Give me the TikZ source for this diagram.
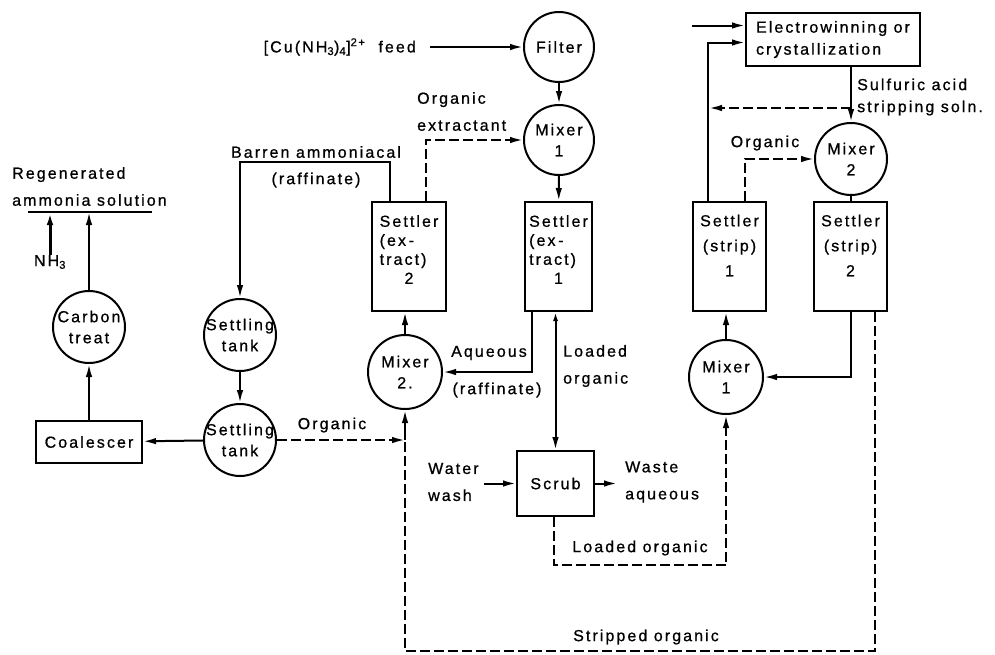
\documentclass[tikz,border=0pt]{standalone}
\usepackage{fontspec}
\setmainfont{Liberation Sans}[LetterSpace=13,FakeBold=0.8]
\usetikzlibrary{arrows.meta,calc}
\newcommand{\fsz}[1]{\fontsize{16}{#1}\selectfont}
\begin{document}
\begin{tikzpicture}[x=1pt,y=-1pt,
  cn/.style={line width=2pt},
  arr/.style={cn,-{Latex[length=13pt,width=6.5pt]}},
  dsh/.style={cn,dash pattern=on 10pt off 4pt},
  proc/.style={circle,draw,line width=2pt,inner sep=-14pt,align=center,font=\fsz{21}},
  box/.style={rectangle,draw,line width=2pt,inner sep=0pt,align=center,font=\fsz{22}},
  lbl/.style={inner sep=0pt,font=\fsz{27}},
  settext/.style n args={3}{label={[font=\fsz{#1},align=center,yshift=#2]center:#3}},
]
\useasboundingbox (0,0) rectangle (995,654);

% ---- main units ----
\node[proc,minimum size=70pt] (filter) at (559,47) {Filter};
\node[proc,minimum size=70pt] (mixE1) at (559,140) {Mixer\\1};
\node[box,minimum width=67pt,minimum height=109pt,
      settext={19}{5pt}{\begin{tabular}{@{}l@{}}Settler\\(ex\,-\\tract)\\\multicolumn{1}{@{}c@{}}{1}\end{tabular}}]
      (setE1) at (558.5,256.5) {};
\node[box,minimum width=74pt,minimum height=109pt,
      settext={19}{5pt}{\begin{tabular}{@{}l@{}}Settler\\(ex\,-\\tract)\\\multicolumn{1}{@{}c@{}}{2}\end{tabular}}]
      (setE2) at (409,256.5) {};
\node[proc,minimum size=74pt] (mixE2) at (405,372) {Mixer\\2.};
\node[box,minimum width=77pt,minimum height=65pt] (scrub) at (555.5,483.5) {Scrub};
\node[proc,minimum size=72pt] (tank1) at (240,335) {Settling\\tank};
\node[proc,minimum size=72pt] (tank2) at (240,440) {Settling\\tank};
\node[box,minimum width=106pt,minimum height=42pt] (coal) at (89,442) {Coalescer};
\node[proc,minimum size=72pt] (carbon) at (89,327) {Carbon\\treat};
\node[proc,minimum size=74pt] (mixS1) at (726,377) {Mixer\\1};
\node[box,minimum width=73pt,minimum height=109pt,
      settext={25}{11pt}{Settler\\(strip)\\1}] (setS1) at (729.5,256.5) {};
\node[box,minimum width=73pt,minimum height=109pt,
      settext={25}{11pt}{Settler\\(strip)\\2}] (setS2) at (850.5,256.5) {};
\node[proc,minimum size=72pt] (mixS2) at (851,159) {Mixer\\2};
\node[box,minimum width=174pt,minimum height=53pt,align=left] (elec) at (833,39.5)
      {Electrowinning or\\crystallization};

% ---- labels ----
\node[lbl,anchor=east] (feed) at (416,47) {[Cu(NH\textsubscript{3})\textsubscript{4}]\textsuperscript{2+}\ \ feed};
\node[lbl,anchor=west,align=left] (regen) at (12,186.5) {Regenerated\\ammonia solution};
\node[lbl] (nh3) at (50,262) {NH\textsubscript{3}};
\node[lbl] (barren) at (316,152) {Barren ammoniacal};
\node[lbl] (raff1) at (316,180) {(raffinate)};
\node[lbl,anchor=west,align=left] (orgext) at (417,111.5) {Organic\\extractant};
\node[lbl] (aq) at (489,353) {Aqueous};
\node[lbl] (raff2) at (497,390) {(raffinate)};
\node[lbl,anchor=west,align=left] (loaded) at (563,366) {Loaded\\organic};
\node[lbl] (org1) at (332,425) {Organic};
\node[lbl,anchor=west,align=left] (water) at (428,482) {Water\\wash};
\node[lbl,anchor=west,align=left] (waste) at (625,482) {Waste\\aqueous};
\node[lbl] (lorg) at (640,548) {Loaded organic};
\node[lbl] (strip) at (646,637) {Stripped organic};
\node[lbl,anchor=west,align=left,font=\fsz{22}] (sulf) at (857,97) {Sulfuric acid\\stripping soln.};
\node[lbl] (org2) at (765,143) {Organic};

% ---- coordinates ----
\coordinate (barL) at (28,212);
\coordinate (barR) at (152,212);
\coordinate (join) at (mixE2.south |- tank2.east);
\coordinate (ein) at (692,25.5);
\coordinate (sa) at (851,108);
\coordinate (sb) at (709,108);

% ---- connectors ----
\draw[arr,shorten <=14pt] (feed.east) -- (feed.east -| filter.west);
\draw[arr] (filter) -- (mixE1);
\draw[arr] (mixE1) -- (setE1);
\draw[arr] ([xshift=19pt]setE2.north west) -- ++(0,-39) -| (tank1.north);
\draw[arr,dsh] ([xshift=55pt]setE2.north west) |- (mixE1.west);
\draw[arr] (mixE2.north) -- (mixE2.north |- setE2.south);
\draw[arr] ([xshift=-26.5pt]setE1.south) |- (mixE2.east);
\draw[cn,{Latex[length=9pt,width=5pt]}-{Latex[length=13pt,width=6.5pt]}] (scrub.north |- setE1.south) -- (scrub.north);
\draw[arr,shorten <=5pt] (scrub.west -| water.east) -- (scrub.west);
\draw[arr,shorten >=8pt] (scrub.east) -- (scrub.east -| waste.west);
\draw[arr,dsh] ([xshift=-2pt]scrub.south) -- ++(0,48) -| (mixS1.south);
\draw[arr] (mixS1.north) -- (mixS1.north |- setS1.south);
\draw[arr] (setS2.south) |- (mixS1.east);
\draw[dsh] ([xshift=24pt]setS2.south) -- ++(0,339) -| (join);
\draw[arr] (join) -- (mixE2.south);
\draw[arr,dsh] (tank2.east) -- (join);
\draw[arr] (tank1) -- (tank2);
\draw[arr] (tank2) -- (coal);
\draw[arr] (coal) -- (carbon);
\draw[cn] (barL) -- (barR);
\draw[arr] (carbon.north) -- (carbon.north |- barL);
\draw[arr,line width=3pt] (nh3.north) -- (nh3.north |- barL);
\draw[arr] (ein) -- (ein -| elec.west);
\draw[arr] ([xshift=16pt]setS1.north west) |- ([yshift=-3pt]elec.west);
\draw[arr] (mixS2.north |- elec.south) -- (mixS2.north);
\draw[arr,dsh] (sa) -- (sb);
\draw[arr,dsh] ([xshift=53pt]setS1.north west) |- (mixS2.west);
\draw[cn] (mixS2.south) -- (mixS2.south |- setS2.north);
\end{tikzpicture}
\end{document}
